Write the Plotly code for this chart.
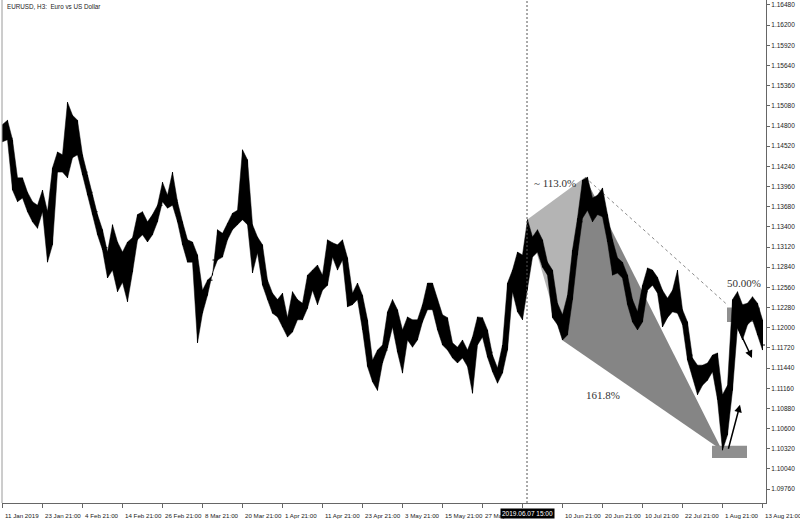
import plotly.graph_objects as go

# ---- data (EURUSD, one bar per trading day) ----
highs = [1.1482,1.1488,1.1461,1.1408,1.1408,1.1388,1.1375,1.1370,1.1391,1.1361,
         1.1422,1.1444,1.1440,1.1513,1.1495,1.1488,1.1440,1.1412,1.1384,1.1357,
         1.1336,1.1305,1.1343,1.1319,1.1305,1.1319,1.1325,1.1357,1.1361,1.1347,
         1.1357,1.1370,1.1402,1.1384,1.1416,1.1375,1.1347,1.1322,1.1319,1.1301,
         1.1252,1.1266,1.1273,1.1336,1.1331,1.1345,1.1359,1.1363,1.1447,1.1433,
         1.1343,1.1326,1.1315,1.1266,1.1248,1.1239,1.1248,1.1214,1.1250,1.1239,
         1.1234,1.1273,1.1280,1.1287,1.1273,1.1322,1.1318,1.1315,1.1322,1.1297,
         1.1248,1.1262,1.1245,1.1211,1.1155,1.1169,1.1176,1.1222,1.1239,1.1225,
         1.1197,1.1215,1.1211,1.1211,1.1232,1.1262,1.1262,1.1239,1.1218,1.1214,
         1.1179,1.1173,1.1183,1.1169,1.1187,1.1215,1.1214,1.1197,1.1162,1.1144,
         1.1176,1.1262,1.1280,1.1305,1.1301,1.1350,1.1326,1.1336,1.1322,1.1291,
         1.1280,1.1234,1.1218,1.1245,1.1308,1.1352,1.1405,1.1409,1.1380,1.1384,
         1.1394,1.1357,1.1322,1.1297,1.1291,1.1273,1.1239,1.1222,1.1259,1.1283,
         1.1280,1.1270,1.1252,1.1241,1.1252,1.1280,1.1225,1.1208,1.1158,1.1148,
         1.1148,1.1151,1.1162,1.1165,1.1107,1.1120,1.1239,1.1250,1.1232,1.1234,
         1.1243,1.1234,1.1211]
lows = [1.1458,1.1461,1.1391,1.1375,1.1380,1.1361,1.1347,1.1338,1.1361,1.1291,
        1.1315,1.1416,1.1416,1.1408,1.1436,1.1440,1.1412,1.1384,1.1357,1.1329,
        1.1308,1.1269,1.1280,1.1250,1.1263,1.1236,1.1277,1.1322,1.1329,1.1319,
        1.1329,1.1347,1.1375,1.1366,1.1370,1.1347,1.1315,1.1291,1.1291,1.1179,
        1.1220,1.1245,1.1276,1.1294,1.1298,1.1322,1.1336,1.1343,1.1350,1.1343,
        1.1276,1.1304,1.1259,1.1239,1.1220,1.1215,1.1201,1.1187,1.1194,1.1211,
        1.1211,1.1227,1.1252,1.1232,1.1252,1.1259,1.1298,1.1280,1.1294,1.1229,
        1.1232,1.1239,1.1197,1.1146,1.1125,1.1113,1.1151,1.1172,1.1201,1.1166,
        1.1137,1.1183,1.1173,1.1183,1.1208,1.1225,1.1225,1.1197,1.1176,1.1169,
        1.1158,1.1151,1.1158,1.1146,1.1109,1.1176,1.1187,1.1159,1.1139,1.1123,
        1.1137,1.1169,1.1250,1.1222,1.1211,1.1252,1.1298,1.1305,1.1284,1.1273,
        1.1214,1.1204,1.1183,1.1190,1.1239,1.1301,1.1352,1.1363,1.1347,1.1357,
        1.1354,1.1319,1.1273,1.1276,1.1269,1.1232,1.1208,1.1197,1.1208,1.1252,
        1.1259,1.1248,1.1201,1.1214,1.1222,1.1220,1.1204,1.1155,1.1132,1.1107,
        1.1120,1.1127,1.1139,1.1100,1.1030,1.1051,1.1113,1.1201,1.1183,1.1204,
        1.1211,1.1190,1.1169]
closes = [1.1468,1.1463,1.1398,1.1391,1.1384,1.1370,1.1363,1.1366,1.1363,1.1322,
          1.1416,1.1426,1.1419,1.1491,1.1461,1.1440,1.1416,1.1388,1.1361,1.1336,
          1.1311,1.1287,1.1315,1.1287,1.1280,1.1308,1.1322,1.1343,1.1338,1.1336,
          1.1352,1.1370,1.1380,1.1377,1.1377,1.1347,1.1322,1.1301,1.1301,1.1225,
          1.1245,1.1266,1.1294,1.1311,1.1325,1.1338,1.1352,1.1357,1.1433,1.1343,
          1.1308,1.1315,1.1266,1.1245,1.1232,1.1232,1.1211,1.1197,1.1239,1.1225,
          1.1227,1.1263,1.1266,1.1273,1.1259,1.1308,1.1308,1.1301,1.1297,1.1239,
          1.1241,1.1245,1.1204,1.1152,1.1134,1.1162,1.1169,1.1214,1.1218,1.1176,
          1.1190,1.1197,1.1197,1.1208,1.1227,1.1239,1.1232,1.1204,1.1197,1.1176,
          1.1169,1.1169,1.1162,1.1152,1.1183,1.1204,1.1194,1.1166,1.1141,1.1139,
          1.1169,1.1252,1.1259,1.1239,1.1266,1.1322,1.1315,1.1315,1.1291,1.1277,
          1.1225,1.1214,1.1197,1.1239,1.1301,1.1347,1.1398,1.1377,1.1370,1.1377,
          1.1357,1.1322,1.1287,1.1287,1.1273,1.1239,1.1218,1.1211,1.1250,1.1266,
          1.1266,1.1252,1.1214,1.1232,1.1239,1.1225,1.1208,1.1162,1.1141,1.1134,
          1.1134,1.1144,1.1155,1.1107,1.1072,1.1113,1.1225,1.1211,1.1218,1.1225,
          1.1218,1.1197,1.1176]
opens = [1.1475,1.1468,1.1463,1.1398,1.1391,1.1384,1.1370,1.1363,1.1366,1.1363,
         1.1322,1.1416,1.1426,1.1419,1.1491,1.1461,1.1440,1.1416,1.1388,1.1361,
         1.1336,1.1311,1.1287,1.1315,1.1287,1.1280,1.1308,1.1322,1.1343,1.1338,
         1.1336,1.1352,1.1370,1.1380,1.1377,1.1377,1.1347,1.1322,1.1301,1.1301,
         1.1225,1.1245,1.1266,1.1294,1.1311,1.1325,1.1338,1.1352,1.1357,1.1433,
         1.1343,1.1308,1.1315,1.1266,1.1245,1.1232,1.1232,1.1211,1.1197,1.1239,
         1.1225,1.1227,1.1263,1.1266,1.1273,1.1259,1.1308,1.1308,1.1301,1.1297,
         1.1239,1.1241,1.1245,1.1204,1.1152,1.1134,1.1162,1.1169,1.1214,1.1218,
         1.1176,1.1190,1.1197,1.1197,1.1208,1.1227,1.1239,1.1232,1.1204,1.1197,
         1.1176,1.1169,1.1169,1.1162,1.1152,1.1183,1.1204,1.1194,1.1166,1.1141,
         1.1139,1.1169,1.1252,1.1259,1.1239,1.1266,1.1322,1.1315,1.1315,1.1291,
         1.1277,1.1225,1.1214,1.1197,1.1239,1.1301,1.1347,1.1398,1.1377,1.1370,
         1.1377,1.1357,1.1322,1.1287,1.1287,1.1273,1.1239,1.1218,1.1211,1.1250,
         1.1266,1.1266,1.1252,1.1214,1.1232,1.1239,1.1225,1.1208,1.1162,1.1141,
         1.1134,1.1134,1.1144,1.1155,1.1107,1.1072,1.1113,1.1225,1.1211,1.1218,
         1.1225,1.1218,1.1197]
days = list(range(len(closes)))

# time-axis labels (one every 8 trading days); index 13 is hidden by the cursor label
tick_days = [0, 8, 16, 24, 32, 40, 48, 56, 64, 72, 80, 88, 96, 104, 112, 120, 128, 136, 144, 152]
tick_labels = ["11 Jan 2019", "23 Jan 21:00", "4 Feb 21:00", "14 Feb 21:00", "26 Feb 21:00",
               "8 Mar 21:00", "20 Mar 21:00", "1 Apr 21:00", "11 Apr 21:00", "23 Apr 21:00",
               "3 May 21:00", "15 May 21:00", "27 May 21:00", "", "10 Jun 21:00",
               "20 Jun 21:00", "10 Jul 21:00", "22 Jul 21:00", "1 Aug 21:00", "13 Aug 21:00"]
price_ticks = [1.09760, 1.10040, 1.10320, 1.10600, 1.10880, 1.11160, 1.11440, 1.11720,
               1.12000, 1.12280, 1.12560, 1.12840, 1.13120, 1.13400, 1.13680, 1.13960,
               1.14240, 1.14520, 1.14800, 1.15080, 1.15360, 1.15640, 1.15920, 1.16200, 1.16480]

# harmonic pattern points X, A, B, D
pat_day = [104.9, 111.9, 116.5, 143.9]
pat_price = [1.1350, 1.1183, 1.1409, 1.1030]
dash_end = (145.1, 1.1231)
box_top = (144.9, 151.5, 1.1208, 1.1228)
box_bot = (141.9, 148.9, 1.1019, 1.1036)
arrow1 = ((145.1, 1.1030), (147.5, 1.1093))
arrow2 = ((146.1, 1.1214), (149.9, 1.1158))
cursor_day = 104.9
cursor_label = "2019.06.07 15:00"

fig = go.Figure()
# dense price band (range of the intraday bars) under the bar marks
fig.add_trace(go.Scatter(x=days, y=highs, mode="lines", line=dict(width=0.5, color="black"),
                         hoverinfo="skip", showlegend=False))
fig.add_trace(go.Scatter(x=days, y=lows, mode="lines", line=dict(width=0.5, color="black"),
                         fill="tonexty", fillcolor="black",
                         hoverinfo="skip", showlegend=False))
fig.add_trace(go.Ohlc(x=days, open=opens, high=highs, low=lows, close=closes,
                      increasing_line_color="black", decreasing_line_color="black",
                      line_width=1, tickwidth=0.5, hoverinfo="skip", showlegend=False))

def tri(a, b, c):
    pts = [(pat_day[i], pat_price[i]) for i in (a, b, c)]
    return "M {} {} L {} {} L {} {} Z".format(*[v for p in pts for v in p])

shapes = [
    dict(type="path", path=tri(0, 2, 1), fillcolor="#b4b4b4", line=dict(width=0), layer="below"),
    dict(type="path", path=tri(1, 2, 3), fillcolor="#858585", line=dict(width=0), layer="below"),
    dict(type="rect", x0=box_top[0], x1=box_top[1], y0=box_top[2], y1=box_top[3],
         fillcolor="#8f8f8f", line=dict(width=0), layer="below"),
    dict(type="rect", x0=box_bot[0], x1=box_bot[1], y0=box_bot[2], y1=box_bot[3],
         fillcolor="#8f8f8f", line=dict(width=0), layer="below"),
    dict(type="line", x0=pat_day[2], y0=pat_price[2], x1=dash_end[0], y1=dash_end[1],
         line=dict(color="#8a8a8a", width=1, dash="3px,3px"), layer="below"),
    dict(type="line", x0=cursor_day, x1=cursor_day, y0=0, y1=1, yref="paper",
         line=dict(color="#555555", width=1, dash="2px,2px")),
    dict(type="line", x0=0, x1=0, y0=0, y1=1, xref="paper", yref="paper",
         line=dict(color="#9a9a9a", width=1)),
]

x_font = dict(family="Liberation Sans", size=6.2, color="#222")
ann = []
for d, t in zip(tick_days, tick_labels):
    if t:
        ann.append(dict(x=d, y=0, xref="x", yref="paper", text=t, showarrow=False,
                        xanchor="left", yanchor="top", xshift=0, yshift=-7, font=x_font))
ann.append(dict(x=cursor_day, y=0, xref="x", yref="paper", text=cursor_label, showarrow=False,
                xanchor="center", yanchor="top", yshift=-5, bgcolor="black", borderpad=1,
                font=dict(family="Liberation Sans", size=6.5, color="white")))
ann.append(dict(x=0, y=1, xref="paper", yref="paper", text="EURUSD, H3:  Euro vs US Dollar",
                showarrow=False, xanchor="left", yanchor="top", xshift=3, yshift=-1,
                font=dict(family="Liberation Sans", size=6.3, color="#222")))
serif = dict(family="Liberation Serif", size=11, color="#333")
ann.append(dict(x=105.9, y=1.1401, text="~ 113.0%", showarrow=False, xanchor="left", font=serif))
ann.append(dict(x=120.1, y=1.1107, text="161.8%", showarrow=False, xanchor="center", font=serif))
ann.append(dict(x=148.3, y=1.1262, text="50.00%", showarrow=False, xanchor="center", font=serif))
for (t0, t1) in (arrow1, arrow2):
    ann.append(dict(x=t1[0], y=t1[1], ax=t0[0], ay=t0[1], axref="x", ayref="y", text="",
                    showarrow=True, arrowhead=2, arrowsize=1, arrowwidth=1.5, arrowcolor="black"))

fig.update_layout(
    template="none",
    width=800, height=521, margin=dict(l=2, r=34, t=0, b=18, autoexpand=False),
    paper_bgcolor="white", plot_bgcolor="white",
    shapes=shapes, annotations=ann, showlegend=False,
    xaxis=dict(range=[-0.1, 152.7], showgrid=False, zeroline=False, showline=True,
               linecolor="#666", linewidth=1, ticks="outside", ticklen=4, tickcolor="#666",
               tickvals=tick_days, showticklabels=False, rangeslider=dict(visible=False),
               fixedrange=True, automargin=False),
    yaxis=dict(range=[1.09567, 1.16549], side="right", showgrid=False, zeroline=False,
               showline=True, linecolor="#666", linewidth=1, ticks="outside", ticklen=3,
               tickcolor="#666", tickvals=price_ticks, tickformat=".5f",
               tickfont=dict(family="Liberation Sans", size=6.5, color="#222"),
               fixedrange=True, automargin=False),
)

fig.write_html("out.html", config={"displayModeBar": False},
               post_script="document.body.style.margin='0';document.body.style.overflow='hidden';")
